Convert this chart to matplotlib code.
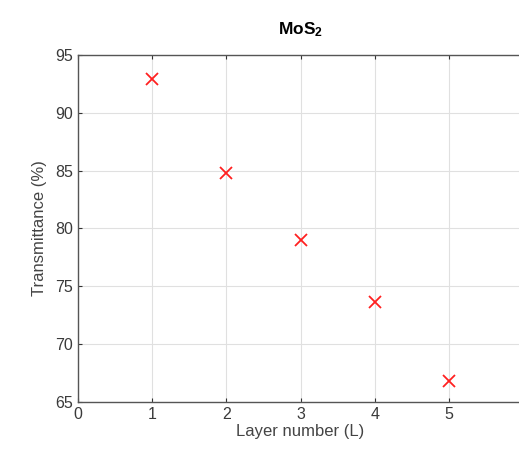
import matplotlib
matplotlib.use("Agg")
import matplotlib.pyplot as plt

plt.rcParams['font.family'] = ['Liberation Sans', 'DejaVu Sans']
plt.rcParams['mathtext.default'] = 'regular'

layers = [1, 2, 3, 4, 5]
transmittance = [92.9, 84.8, 79.0, 73.6, 66.8]
xticks = [0, 1, 2, 3, 4, 5, 6]
yticks = [65, 70, 75, 80, 85, 90, 95]

fig = plt.figure(figsize=(5.19, 4.5), dpi=100)
ax = fig.add_axes([0.150, 0.107, 0.858, 0.771])
ax.plot(layers, transmittance, linestyle='none', marker='x', color='#ff2020',
        markersize=8, markeredgewidth=1.3)
ax.set_xlim(0, 6)
ax.set_ylim(65, 95)
ax.set_xticks(xticks)
ax.set_yticks(yticks)
ax.grid(True, color='#e0e0e0', linewidth=0.8)
ax.set_axisbelow(True)
ax.tick_params(direction='in', length=3, colors='#333333', labelsize=11.5,
               labelcolor='#3a3a3a', top=True, right=True)
for s in ax.spines.values():
    s.set_color('#555555')
    s.set_linewidth(1.0)
ax.set_xlabel('Layer number (L)', fontsize=12, color='#444444', labelpad=2)
ax.set_ylabel('Transmittance (%)', fontsize=12, color='#444444', labelpad=6)
ax.set_title('MoS$_2$', fontsize=12.5, fontweight='bold', pad=15)
fig.savefig('out.png', dpi=100)
